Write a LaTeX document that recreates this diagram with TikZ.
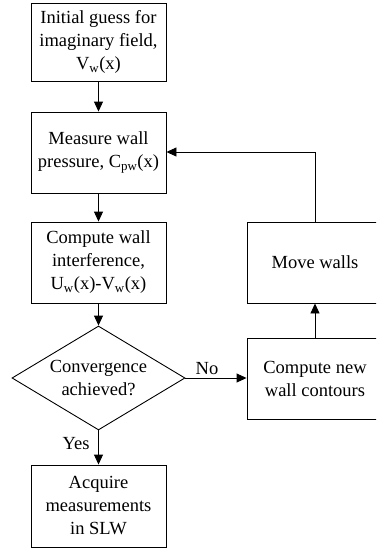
\documentclass[tikz,border=0pt]{standalone}
\usepackage{fontspec}
\setmainfont{Liberation Serif}
\usetikzlibrary{shapes.geometric,arrows.meta}
\tikzset{
  box/.style={draw, line width=0.9pt, rectangle, align=center, font=\fontsize{18.5}{23}\selectfont, inner sep=0pt},
  dec/.style={draw, line width=0.9pt, diamond, align=center, font=\fontsize{18.5}{23}\selectfont, inner sep=0pt, minimum width=173pt, minimum height=104pt, aspect=1.66},
  conn/.style={line width=0.9pt, -{Triangle[length=10pt,width=9pt]}},
  lbl/.style={font=\fontsize{18.5}{23}\selectfont}
}
\begin{document}
\begin{tikzpicture}[x=1pt,y=-1pt]
\useasboundingbox (0,0) rectangle (376,550);
\clip (0,0) rectangle (376,550);
\node[box, minimum width=135pt, minimum height=78pt] (b1) at (98.5,42) {Initial guess for\\imaginary field,\\V\textsubscript{w}(x)};
\node[box, minimum width=135pt, minimum height=81pt] (b2) at (98.5,152.5) {Measure wall\\pressure, C\textsubscript{pw}(x)};
\node[box, minimum width=135pt, minimum height=81pt] (b3) at (98.5,262.5) {Compute wall\\interference,\\U\textsubscript{w}(x)-V\textsubscript{w}(x)};
\node[dec] (d) at (98.5,378) {Convergence\\achieved?};
\node[box, minimum width=135pt, minimum height=82pt] (b5) at (98.5,506) {Acquire\\measurements\\in SLW};
\node[box, minimum width=136pt, minimum height=81pt] (b6) at (315,378.5) {Compute new\\wall contours};
\node[box, minimum width=136pt, minimum height=81pt] (b7) at (315,262.5) {Move walls};
\coordinate (c1) at (315,152);
\draw[conn] (b1) -- (b2);
\draw[conn] (b2) -- (b3);
\draw[conn] (b3) -- (d.north);
\draw[conn] (d.south) -- (b5);
\draw[conn] (d.east) -- (b6.west |- d.east);
\draw[conn] (b6) -- (b7);
\draw[conn] (b7.north) -- (c1) -- (b2.east |- c1);
\node[lbl] (no) at (207,369) {No};
\node[lbl] (yes) at (76,444) {Yes};
\end{tikzpicture}
\end{document}
